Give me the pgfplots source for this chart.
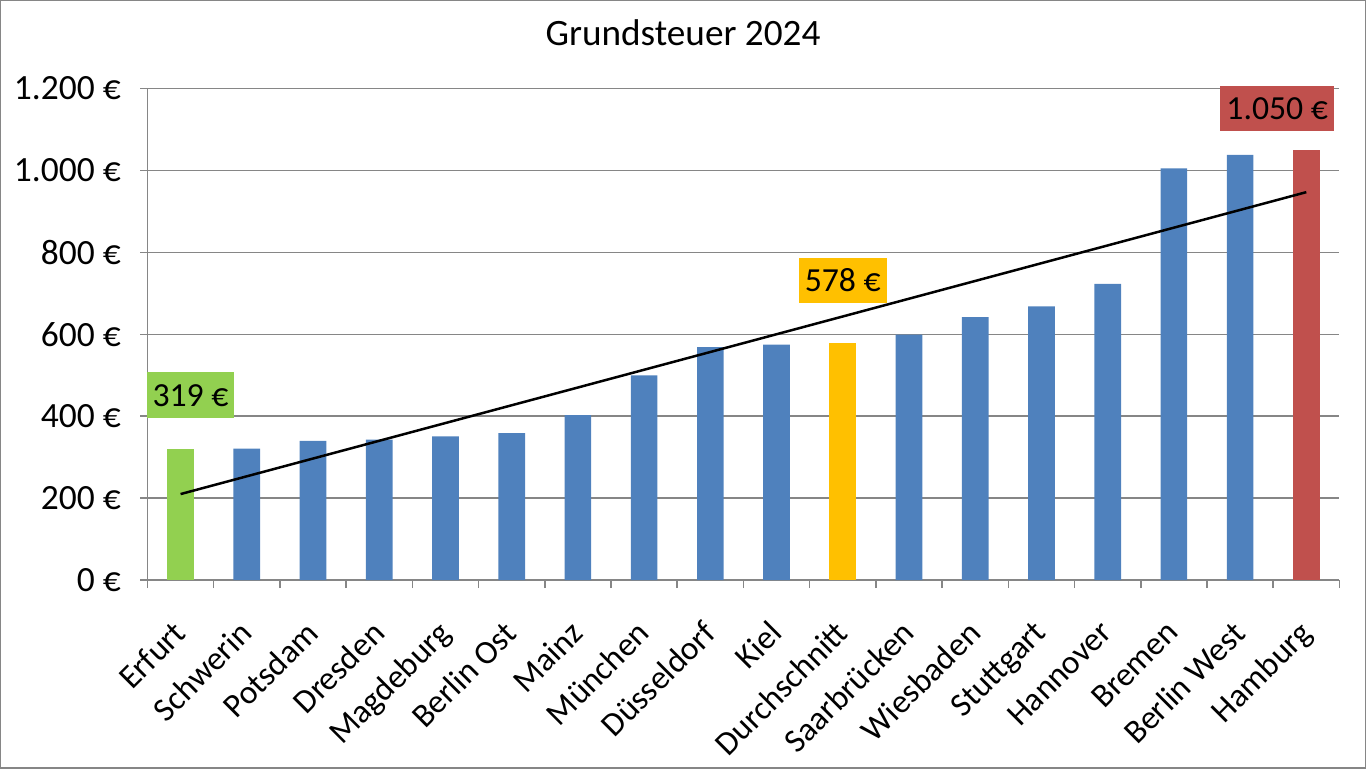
\documentclass[border=0pt]{standalone}
\usepackage{pgfplots}
\pgfplotsset{compat=1.18}
\usepackage{fontspec}
\setmainfont{Carlito}
\definecolor{cblue}{HTML}{4F81BD}
\definecolor{cgreen}{HTML}{92D050}
\definecolor{cgold}{HTML}{FFC000}
\definecolor{cred}{HTML}{C0504D}
\definecolor{cgrid}{HTML}{868686}
\begin{document}
\begin{tikzpicture}
\fontsize{9.4}{11}\selectfont
\draw[cgrid, line width=0.12mm] (0,0) rectangle (13.66cm,7.68cm);
\node at (6.83cm,7.36cm) {\fontsize{10.6}{12}\selectfont Grundsteuer 2024};
\begin{axis}[
  at={(1.47cm,1.88cm)}, anchor=south west,
  scale only axis, width=11.93cm, height=4.92cm,
  xmin=-0.5, xmax=17.5, ymin=0, ymax=1200,
  axis x line*=bottom, axis y line*=left,
  axis line style={cgrid, line width=0.15mm, -},
  ytick={0,200,400,600,800,1000,1200},
  yticklabels={0 €,200 €,400 €,600 €,800 €,1.000 €,1.200 €},
  ymajorgrids, grid style={cgrid, line width=0.15mm},
  xtick={0,...,17},
  xticklabels={Erfurt,Schwerin,Potsdam,Dresden,Magdeburg,Berlin Ost,Mainz,München,Düsseldorf,Kiel,Durchschnitt,Saarbrücken,Wiesbaden,Stuttgart,Hannover,Bremen,Berlin West,Hamburg},
  minor xtick={-0.5,0.5,...,17.5},
  tick align=outside,
  major tick length=0.7mm,
  x tick style={draw=none},
  minor x tick style={draw=cgrid, line width=0.15mm},
  minor tick length=0.8mm,
  y tick style={cgrid, line width=0.15mm},
  xticklabel style={font=\fontsize{9.5}{11}\selectfont, rotate=45, anchor=north east, inner sep=1pt, xshift=-2.5mm, yshift=-1.2mm},
  yticklabel style={font=\fontsize{10.1}{12}\selectfont, xshift=-0.8mm},
  clip=false,
]
\addplot[ybar, bar shift=0pt, bar width=2.67mm, fill=cgreen, draw=none] coordinates {(0,319)};
\addplot[ybar, bar shift=0pt, bar width=2.67mm, fill=cblue, draw=none] coordinates {
(1,321) (2,340) (3,343) (4,351) (5,359) (6,403) (7,500) (8,569) (9,575)
(11,599) (12,642) (13,668) (14,723) (15,1005) (16,1038)};
\addplot[ybar, bar shift=0pt, bar width=2.67mm, fill=cgold, draw=none] coordinates {(10,578)};
\addplot[ybar, bar shift=0pt, bar width=2.67mm, fill=cred, draw=none] coordinates {(17,1050)};
\addplot[black, line width=0.25mm] coordinates {(0,210) (17,947)};
\node[fill=cgreen, inner xsep=0.6mm, minimum height=4.6mm, font=\fontsize{9.6}{11}\selectfont] at (axis cs:0.15,451) {319 €};
\node[fill=cgold, inner xsep=0.6mm, minimum height=4.1mm, font=\fontsize{9.6}{11}\selectfont] at (axis cs:10,732) {578 €};
\node[fill=cred, inner xsep=0.6mm, minimum height=4.5mm, font=\fontsize{9.6}{11}\selectfont] at (axis cs:16.56,1151) {1.050 €};
\end{axis}
\end{tikzpicture}
\end{document}
